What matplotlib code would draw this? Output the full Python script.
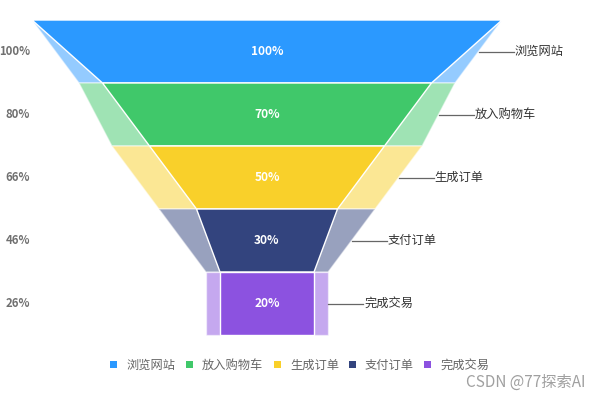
import matplotlib
matplotlib.use('Agg')
import matplotlib.pyplot as plt
from matplotlib.patches import Polygon, Rectangle

plt.rcParams['font.family'] = ['Noto Sans CJK SC', 'DejaVu Sans']

# data
stages = ['浏览网站', '放入购物车', '生成订单', '支付订单', '完成交易']
step_rate = [100, 70, 50, 30, 20]      # front funnel (centre labels)
total_rate = [100, 80, 66, 46, 26]     # back funnel (left labels)
colors = ['#2B99FF', '#40C86A', '#F9D02A', '#33447E', '#8C52E0']

# layout in pixel units
cx = 267
half_w = 235
top = 20
row_h = 63

fig = plt.figure(figsize=(6, 4), dpi=100)
ax = fig.add_axes([0, 0, 1, 1])
ax.set_xlim(0, 600)
ax.set_ylim(400, 0)
ax.axis('off')


def piece(vals, i, y0):
	w0 = half_w * vals[i] / 100
	w1 = half_w * (vals[i + 1] if i + 1 < len(vals) else vals[i]) / 100
	y1 = y0 + row_h
	return [(cx - w0, y0), (cx + w0, y0), (cx + w1, y1), (cx - w1, y1)], w0, w1

# back funnel (lighter)
for i in range(len(stages)):
	y0 = top + i * row_h
	pts, w0, w1 = piece(total_rate, i, y0)
	ax.add_patch(Polygon(pts, closed=True, facecolor=colors[i], alpha=0.5,
						 edgecolor='white', lw=1, zorder=1))
	ym = y0 + row_h / 2
	ax.text(30, ym, f'{total_rate[i]}%', ha='right', va='center',
			fontsize=8.2, color='#707070', fontweight='bold')
	# leader line + stage name
	xr = cx + (w0 + w1) / 2
	ax.plot([xr, xr + 35], [ym, ym], color='#666666', lw=0.9, zorder=3)
	ax.text(xr + 36, ym, stages[i], ha='left', va='center',
			fontsize=8.8, color='#333333')

# front funnel
for i in range(len(stages)):
	y0 = top + i * row_h
	pts, w0, w1 = piece(step_rate, i, y0)
	ax.add_patch(Polygon(pts, closed=True, facecolor=colors[i],
						 edgecolor='white', lw=1, zorder=2))
	ax.text(cx, y0 + row_h / 2, f'{step_rate[i]}%', ha='center', va='center',
			fontsize=8.6, color='white', fontweight='bold', zorder=4)

# legend
leg_x = [113, 189, 277, 352, 427]
for i, name in enumerate(stages):
	ax.add_patch(Rectangle((leg_x[i] - 3.5, 361), 7, 7, facecolor=colors[i],
						   edgecolor='none'))
	ax.text(leg_x[i] + 13, 365, name, ha='left', va='center',
			fontsize=8.8, color='#666666')

ax.text(586, 382, 'CSDN @77探索AI', ha='right', va='center',
		fontsize=11, color='#a0a0a0')

fig.savefig('out.png', dpi=100)
